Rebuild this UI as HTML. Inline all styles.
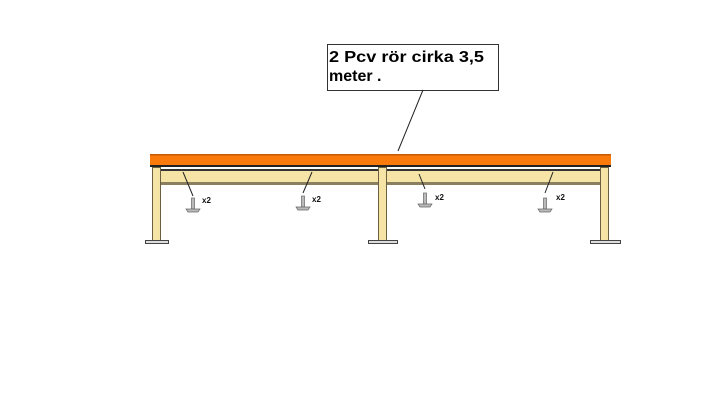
<!DOCTYPE html>
<html><head><style>body{margin:0;background:#fff}</style></head><body>
<svg width="710" height="412" xmlns="http://www.w3.org/2000/svg" font-family="Liberation Sans, sans-serif">
<rect width="710" height="412" fill="#fff"/>
<rect x="327.5" y="44.5" width="171" height="46" fill="#fff" stroke="#333" stroke-width="1"/>
<text x="329" y="62" font-size="16" font-weight="bold" textLength="155" lengthAdjust="spacingAndGlyphs">2 Pcv rör cirka 3,5</text>
<text x="329" y="81" font-size="16" font-weight="bold">meter .</text>
<line x1="423" y1="90" x2="398" y2="151" stroke="#222" stroke-width="1"/>
<rect x="158" y="169" width="444" height="15" fill="#f6e3a6"/>
<rect x="158" y="182" width="444" height="3" fill="#8a8060"/>
<rect x="158" y="169" width="444" height="2" fill="#333"/>
<g fill="#f6e3a6" stroke="#6a6040" stroke-width="1">
<rect x="152.5" y="167.5" width="8" height="73"/>
<rect x="378.5" y="167.5" width="8" height="73"/>
<rect x="600.5" y="167.5" width="8" height="73"/>
</g>
<g fill="#ddd" stroke="#444" stroke-width="1">
<rect x="145.5" y="240.5" width="23" height="3"/>
<rect x="368.5" y="240.5" width="29" height="3"/>
<rect x="590.5" y="240.5" width="30" height="3"/>
</g>
<rect x="150" y="154" width="461" height="12" fill="#fb7a0c"/>
<rect x="150" y="154" width="461" height="1.5" fill="#c85a05"/>
<rect x="150" y="165" width="461" height="2" fill="#222"/>
<g stroke="#222" stroke-width="1">
<line x1="183" y1="172" x2="193" y2="196"/>
<line x1="312" y1="172" x2="303" y2="193"/>
<line x1="419" y1="174" x2="425" y2="189"/>
<line x1="553" y1="172" x2="545" y2="193"/>
</g>
<g fill="#bbb" stroke="#666" stroke-width="0.7">
<g transform="translate(193,198)"><rect x="-1.5" y="0" width="3" height="11"/><path d="M-7 11 H7 L5 14 H-5 Z"/></g>
<g transform="translate(303,196)"><rect x="-1.5" y="0" width="3" height="11"/><path d="M-7 11 H7 L5 14 H-5 Z"/></g>
<g transform="translate(425,193)"><rect x="-1.5" y="0" width="3" height="11"/><path d="M-7 11 H7 L5 14 H-5 Z"/></g>
<g transform="translate(545,198)"><rect x="-1.5" y="0" width="3" height="11"/><path d="M-7 11 H7 L5 14 H-5 Z"/></g>
</g>
<g font-size="8" font-weight="bold" fill="#111">
<text x="202" y="203">x2</text>
<text x="312" y="202">x2</text>
<text x="435" y="200">x2</text>
<text x="556" y="200">x2</text>
</g>
</svg>
</body></html>
